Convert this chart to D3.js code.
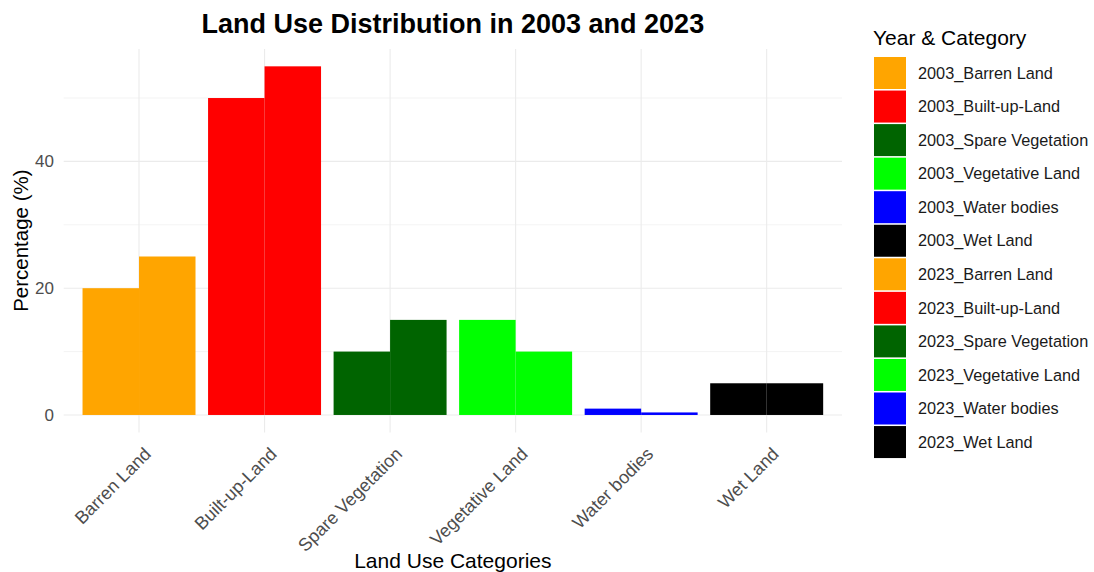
<!DOCTYPE html>
<html>
<head>
<meta charset="utf-8">
<script src="https://cdn.jsdelivr.net/npm/d3@7"></script>
<style>
  body { margin: 0; background: #fff; }
  text { font-family: "Liberation Sans", Arial, sans-serif; }
</style>
</head>
<body>
<div id="chart"></div>
<script>
var categories = ['Barren Land', 'Built-up-Land', 'Spare Vegetation', 'Vegetative Land', 'Water bodies', 'Wet Land'];
var years = ['2003', '2023'];
var values2003 = [20, 50, 10, 15, 1, 5];
var values2023 = [25, 55, 15, 10, 0.4, 5];
var colors = ['#FFA500', '#FF0000', '#006400', '#00FF00', '#0000FF', '#000000'];
var yTicks = [0, 20, 40];
var yMinor = [10, 30, 50];

var width = 1094, height = 572;
var panel = { left: 63.7, right: 842, top: 48.9, bottom: 432.4 };

var svg = d3.select('#chart')
  .append('svg')
    .attr('width', width)
    .attr('height', height);

// rows: one per year and category
var rows = [];
years.forEach(function(yr, yi) {
  var vals = yi === 0 ? values2003 : values2023;
  categories.forEach(function(c, ci) {
    rows.push({ year: yr, cat: c, value: vals[ci], color: colors[ci], key: yr + '_' + c });
  });
});

// ggplot style discrete axis: 0.6 expansion each side, bars 0.9 wide
var x = d3.scalePoint()
  .domain(categories)
  .range([panel.left, panel.right])
  .padding(0.6);
var step = x.step();
var xInner = d3.scaleBand().domain(years).range([-step * 0.45, step * 0.45]);

var y = d3.scaleLinear()
  .domain([-2.75, 57.75])
  .range([panel.bottom, panel.top]);

// grid
var grid = svg.append('g');
grid.selectAll('line.minor')
  .data(yMinor)
  .enter().append('line')
    .attr('x1', panel.left).attr('x2', panel.right)
    .attr('y1', function(d) { return y(d); })
    .attr('y2', function(d) { return y(d); })
    .attr('stroke', '#ebebeb').attr('stroke-width', 0.6);
grid.selectAll('line.major')
  .data(yTicks)
  .enter().append('line')
    .attr('x1', panel.left).attr('x2', panel.right)
    .attr('y1', function(d) { return y(d); })
    .attr('y2', function(d) { return y(d); })
    .attr('stroke', '#ebebeb').attr('stroke-width', 1.1);
grid.selectAll('line.vert')
  .data(categories)
  .enter().append('line')
    .attr('x1', function(d) { return x(d); })
    .attr('x2', function(d) { return x(d); })
    .attr('y1', panel.top).attr('y2', panel.bottom)
    .attr('stroke', '#ebebeb').attr('stroke-width', 1.1);

// bars
svg.selectAll('rect.bar')
  .data(rows)
  .enter().append('rect')
    .attr('class', 'bar')
    .attr('x', function(d) { return x(d.cat) + xInner(d.year); })
    .attr('width', xInner.bandwidth())
    .attr('y', function(d) { return y(d.value); })
    .attr('height', function(d) { return y(0) - y(d.value); })
    .attr('fill', function(d) { return d.color; });

// y axis labels
svg.selectAll('text.ytick')
  .data(yTicks)
  .enter().append('text')
    .attr('x', 54)
    .attr('y', function(d) { return y(d); })
    .attr('dy', '0.35em')
    .attr('text-anchor', 'end')
    .attr('fill', '#4d4d4d')
    .attr('font-size', '17px')
    .text(function(d) { return d; });

// x axis labels
svg.selectAll('text.xtick')
  .data(categories)
  .enter().append('text')
    .attr('text-anchor', 'end')
    .attr('fill', '#4d4d4d')
    .attr('font-size', '18px')
    .attr('transform', function(d) { return 'translate(' + (x(d) + 4) + ',' + 446 + ') rotate(-45)'; })
    .attr('dy', '0.72em')
    .text(function(d) { return d; });

// titles
svg.append('text')
  .attr('x', (panel.left + panel.right) / 2)
  .attr('y', 33)
  .attr('text-anchor', 'middle')
  .attr('font-size', '27px')
  .attr('font-weight', 'bold')
  .text('Land Use Distribution in 2003 and 2023');

svg.append('text')
  .attr('x', (panel.left + panel.right) / 2)
  .attr('y', 568)
  .attr('text-anchor', 'middle')
  .attr('font-size', '21px')
  .text('Land Use Categories');

svg.append('text')
  .attr('transform', 'translate(28,' + ((panel.top + panel.bottom) / 2) + ') rotate(-90)')
  .attr('text-anchor', 'middle')
  .attr('font-size', '20.5px')
  .text('Percentage (%)');

// legend
var legend = svg.append('g').attr('transform', 'translate(874,0)');
legend.append('text')
  .attr('x', -1).attr('y', 45)
  .attr('font-size', '21px')
  .text('Year & Category');

var item = legend.selectAll('g.item')
  .data(rows)
  .enter().append('g')
    .attr('transform', function(d, i) { return 'translate(0,' + (57 + i * 33.55) + ')'; });
item.append('rect')
  .attr('width', 32).attr('height', 32)
  .attr('fill', function(d) { return d.color; });
item.append('text')
  .attr('x', 44).attr('y', 16)
  .attr('dy', '0.35em')
  .attr('font-size', '16.3px')
  .attr('fill', '#1a1a1a')
  .text(function(d) { return d.key; });
</script>
</body>
</html>
